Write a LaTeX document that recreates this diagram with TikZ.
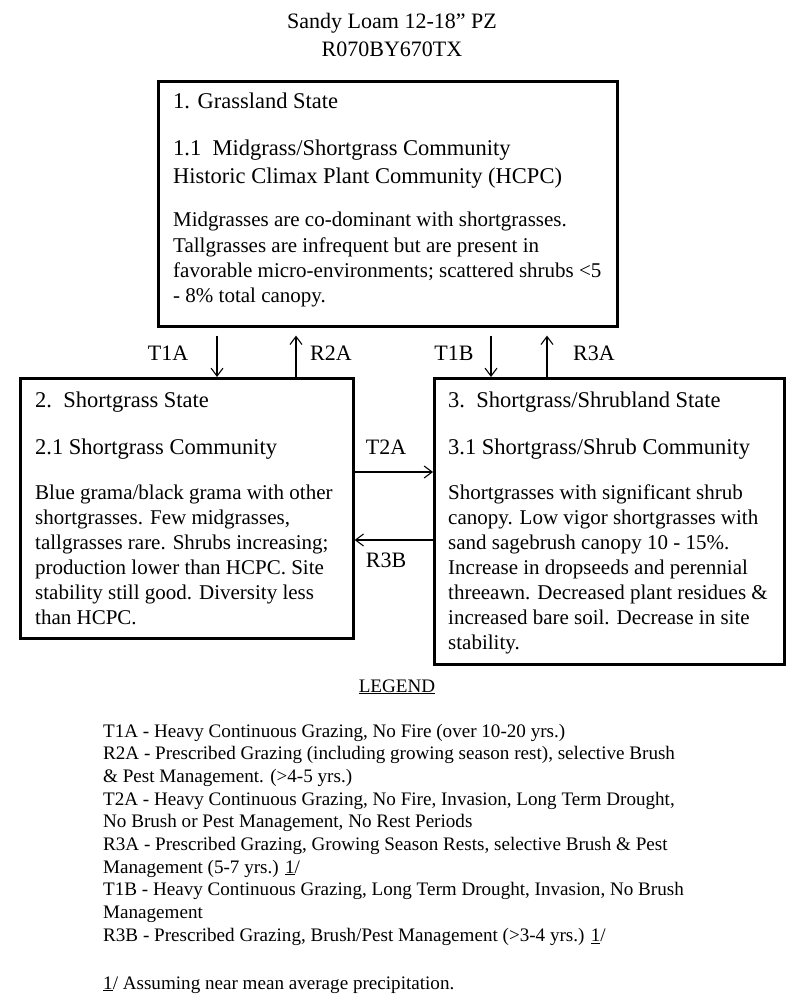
\documentclass[tikz,border=0pt]{standalone}
\usepackage{fontspec}
\setmainfont{Liberation Serif}
\usetikzlibrary{arrows.meta}
\begin{document}
\begin{tikzpicture}[x=1pt,y=-1pt,
  statebox/.style={draw, line width=2.6pt, inner sep=0pt, anchor=north west},
  tx/.style={anchor=base west, inner sep=0pt, font=\fontsize{21}{25}\selectfont},
  ttl/.style={anchor=base west, inner sep=0pt, font=\fontsize{22.5}{28}\selectfont},
  hdr/.style={anchor=base, inner sep=0pt, font=\fontsize{22}{28}\selectfont},
  lbl/.style={inner sep=0pt, font=\fontsize{22}{26}\selectfont},
  leg/.style={anchor=base west, inner sep=0pt, font=\fontsize{19.1}{22.7}\selectfont},
  link/.style={line width=1.1pt, -{Straight Barb[length=8pt,width=12pt,line width=1.1pt]}},
]
\useasboundingbox (0,0) rectangle (800,1008);

% title
\node[hdr] (h1) at (392,29) {Sandy Loam 12-18” PZ};
\node[hdr] (h2) at (392,57) {R070BY670TX};

% boxes
\node[statebox, minimum width=459pt, minimum height=245pt] (b1) at (157,80) {};
\node[statebox, minimum width=333pt, minimum height=260pt] (b2) at (19,377) {};
\node[statebox, minimum width=350pt, minimum height=286pt] (b3) at (433,377) {};

% box 1 text
\node[ttl] (b1t) at (173,109) {1. Grassland State};
\node[ttl] (b1s1) at (173,156) {1.1 \ Midgrass/Shortgrass Community};
\node[ttl] (b1s2) at (173,184) {Historic Climax Plant Community (HCPC)};
\foreach \t [count=\i] in {{Midgrasses are co-dominant with shortgrasses.},
  {Tallgrasses are infrequent but are present in},
  {favorable micro-environments; scattered shrubs <5},
  {- 8\% total canopy.}}
  \node[tx, name=b1l\i] at (173,202+25*\i) {\t};

% box 2 text
\node[ttl] (b2t) at (35,407) {2.\ \ Shortgrass State};
\node[ttl] (b2s) at (35,454) {2.1 Shortgrass Community};
\foreach \t [count=\i] in {{Blue grama/black grama with other},
  {shortgrasses. Few midgrasses,},
  {tallgrasses rare. Shrubs increasing;},
  {production lower than HCPC. Site},
  {stability still good. Diversity less},
  {than HCPC.}}
  \node[tx, name=b2l\i] at (35,474+25*\i) {\t};

% box 3 text
\node[ttl] (b3t) at (448,407) {3.\ \ Shortgrass/Shrubland State};
\node[ttl] (b3s) at (448,454) {3.1 Shortgrass/Shrub Community};
\foreach \t [count=\i] in {{Shortgrasses with significant shrub},
  {canopy. Low vigor shortgrasses with},
  {sand sagebrush canopy 10 - 15\%.},
  {Increase in dropseeds and perennial},
  {threeawn. Decreased plant residues \&},
  {increased bare soil. Decrease in site},
  {stability.}}
  \node[tx, name=b3l\i] at (448,474+25*\i) {\t};

% connectors
\coordinate (xT1A) at (217,0);
\coordinate (xR2A) at (296,0);
\coordinate (xT1B) at (491,0);
\coordinate (xR3A) at (547,0);
\coordinate (yT2A) at (0,472);
\coordinate (yR3B) at (0,540);
\draw[link, shorten <=8pt] (b1.south -| xT1A) -- (b2.north -| xT1A);
\draw[link, shorten >=8pt] (b2.north -| xR2A) -- (b1.south -| xR2A);
\draw[link, shorten <=8pt] (b1.south -| xT1B) -- (b3.north -| xT1B);
\draw[link, shorten >=8pt] (b3.north -| xR3A) -- (b1.south -| xR3A);
\draw[link] (b2.east |- yT2A) -- (b3.west |- yT2A);
\draw[link] (b3.west |- yR3B) -- (b2.east |- yR3B);

\node[lbl] (lT1A) at (168,353) {T1A};
\node[lbl] (lR2A) at (331,353) {R2A};
\node[lbl] (lT1B) at (454,353) {T1B};
\node[lbl] (lR3A) at (594,353) {R3A};
\node[lbl] (lT2A) at (386,447) {T2A};
\node[lbl] (lR3B) at (386,560) {R3B};

% legend
\node[leg, anchor=base] (legt) at (397,692) {\underline{LEGEND}};
\foreach \t [count=\i] in {{T1A - Heavy Continuous Grazing, No Fire (over 10-20 yrs.)},
  {R2A - Prescribed Grazing (including growing season rest), selective Brush},
  {\& Pest Management. (>4-5 yrs.)},
  {T2A - Heavy Continuous Grazing, No Fire, Invasion, Long Term Drought,},
  {No Brush or Pest Management, No Rest Periods},
  {R3A - Prescribed Grazing, Growing Season Rests, selective Brush \& Pest},
  {Management (5-7 yrs.) \underline{1}/},
  {T1B - Heavy Continuous Grazing, Long Term Drought, Invasion, No Brush},
  {Management},
  {R3B - Prescribed Grazing, Brush/Pest Management (>3-4 yrs.) \underline{1}/}}
  \node[leg, name=leg\i] at (103,714.3+22.7*\i) {\t};
\node[leg] (note) at (103,989) {\underline{1}/ Assuming near mean average precipitation.};
\end{tikzpicture}
\end{document}
